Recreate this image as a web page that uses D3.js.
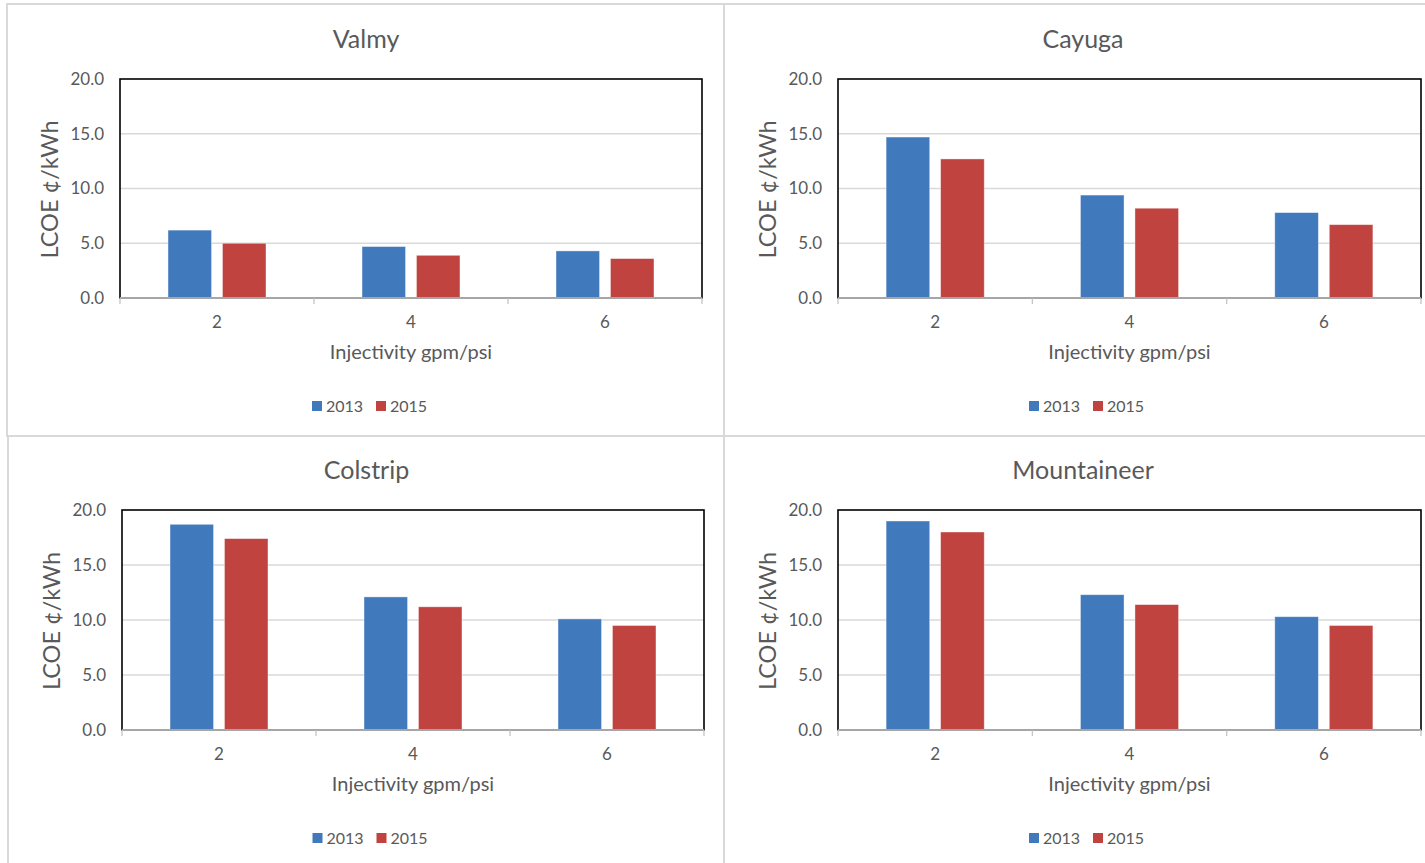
<!DOCTYPE html>
<html>
<head>
<meta charset="utf-8">
<script src="https://cdn.jsdelivr.net/npm/d3@7"></script>
<style>
  html, body { margin: 0; padding: 0; background: #ffffff; }
  svg { display: block; }
  text { font-family: Lato, "Open Sans", sans-serif; }
</style>
</head>
<body>
<svg id="chart" width="1425" height="863"></svg>
<script>
// ---- data ----
const categories = ["2", "4", "6"];
const seriesNames = ["2013", "2015"];
const yTicks = [0, 5, 10, 15, 20];
const plantNames = ["Valmy", "Cayuga", "Colstrip", "Mountaineer"];
const valmy2013 = [6.2, 4.7, 4.3];
const valmy2015 = [5.0, 3.9, 3.6];
const cayuga2013 = [14.7, 9.4, 7.8];
const cayuga2015 = [12.7, 8.2, 6.7];
const colstrip2013 = [18.7, 12.1, 10.1];
const colstrip2015 = [17.4, 11.2, 9.5];
const mountaineer2013 = [19.0, 12.3, 10.3];
const mountaineer2015 = [18.0, 11.4, 9.5];
const xTitle = "Injectivity gpm/psi";
const yTitle = "LCOE ¢/kWh";

const seriesData = [
  [valmy2013, valmy2015],
  [cayuga2013, cayuga2015],
  [colstrip2013, colstrip2015],
  [mountaineer2013, mountaineer2015]
];

// ---- layout ----
const colors = ["#4179BD", "#C0433F"];
const panels = [
  { box: [7, 4, 718, 432],   plot: [120, 79, 702, 298] },
  { box: [724, 4, 718, 432], plot: [838, 79, 1421, 298] },
  { box: [8, 436, 717, 432], plot: [122, 510, 704, 730] },
  { box: [724, 436, 718, 432], plot: [838, 510, 1421, 730] }
];

const svg = d3.select("#chart");

panels.forEach((p, i) => {
  const [bx, by, bw, bh] = p.box;
  svg.append("rect")
    .attr("x", bx).attr("y", by).attr("width", bw).attr("height", bh)
    .attr("fill", "#fff").attr("stroke", "#d9d9d9").attr("stroke-width", 2);
});

panels.forEach((p, i) => {
  const [x0p, y0p, x1p, y1p] = p.plot;
  const g = svg.append("g");
  const cx = p.box[0] + p.box[2] / 2;

  const x = d3.scaleBand().domain(categories).range([x0p, x1p]).paddingInner(0).paddingOuter(0);
  const groupW = x.bandwidth() * 0.505;
  const xs = d3.scaleBand().domain(seriesNames).range([0, groupW]).paddingInner(0.2).paddingOuter(0);
  const y = d3.scaleLinear().domain([0, 20]).range([y1p, y0p]);

  // gridlines
  g.selectAll("line.grid").data(yTicks.filter(t => t > 0 && t < 20)).enter().append("line")
    .attr("x1", x0p).attr("x2", x1p)
    .attr("y1", d => y(d)).attr("y2", d => y(d))
    .attr("stroke", "#d9d9d9").attr("stroke-width", 1.5);

  // bars
  seriesNames.forEach((s, si) => {
    g.selectAll("rect.s" + si).data(seriesData[i][si]).enter().append("rect")
      .attr("x", (d, k) => x(categories[k]) + (x.bandwidth() - groupW) / 2 + xs(s))
      .attr("y", d => y(d))
      .attr("width", xs.bandwidth())
      .attr("height", d => y(0) - y(d))
      .attr("fill", colors[si])
      .attr("stroke", "#ffffff").attr("stroke-opacity", 0.5).attr("stroke-width", 0.8);
  });

  // plot border
  g.append("rect")
    .attr("x", x0p).attr("y", y0p).attr("width", x1p - x0p).attr("height", y1p - y0p)
    .attr("fill", "none").attr("stroke", "#000").attr("stroke-width", 1.6);

  // x axis line + ticks at category boundaries
  g.append("line").attr("x1", x0p).attr("x2", x1p).attr("y1", y(0)).attr("y2", y(0))
    .attr("stroke", "#a6a6a6").attr("stroke-width", 2);
  const bounds = categories.map(c => x(c)).concat([x1p]);
  g.selectAll("line.tick").data(bounds).enter().append("line")
    .attr("x1", d => d).attr("x2", d => d).attr("y1", y(0)).attr("y2", y(0) + 6)
    .attr("stroke", "#bfbfbf").attr("stroke-width", 1.2);

  // y tick labels
  g.selectAll("text.yt").data(yTicks).enter().append("text")
    .attr("x", x0p - 16).attr("y", d => y(d)).attr("dy", "0.35em")
    .attr("text-anchor", "end").attr("fill", "#595959").attr("font-size", 17)
    .text(d => d3.format(".1f")(d));

  // x tick labels
  g.selectAll("text.xt").data(categories).enter().append("text")
    .attr("x", d => x(d) + x.bandwidth() / 2).attr("y", y(0) + 24).attr("dy", "0.35em")
    .attr("text-anchor", "middle").attr("fill", "#595959").attr("font-size", 17)
    .text(d => d);

  // x title
  g.append("text").attr("x", (x0p + x1p) / 2).attr("y", y(0) + 54).attr("dy", "0.35em")
    .attr("text-anchor", "middle").attr("fill", "#595959").attr("font-size", 20)
    .text(xTitle);

  // y title
  g.append("text")
    .attr("transform", `translate(${x0p - 70},${(y0p + y1p) / 2 + 1}) rotate(-90)`)
    .attr("dy", "0.35em").attr("text-anchor", "middle").attr("fill", "#595959").attr("font-size", 23.5)
    .text(yTitle);

  // title
  g.append("text").attr("x", cx).attr("y", y0p - 40).attr("dy", "0.35em")
    .attr("text-anchor", "middle").attr("fill", "#595959").attr("font-size", 25)
    .text(plantNames[i]);

  // legend
  const ly = y(0) + 108;
  const lg = g.append("g").attr("transform", `translate(${cx - 54},${ly})`);
  seriesNames.forEach((s, si) => {
    const ox = si * 64;
    lg.append("rect").attr("x", ox).attr("y", -5).attr("width", 10).attr("height", 10).attr("fill", colors[si]);
    lg.append("text").attr("x", ox + 14).attr("y", 0).attr("dy", "0.35em")
      .attr("fill", "#595959").attr("font-size", 16).text(s);
  });
});
</script>
</body>
</html>
